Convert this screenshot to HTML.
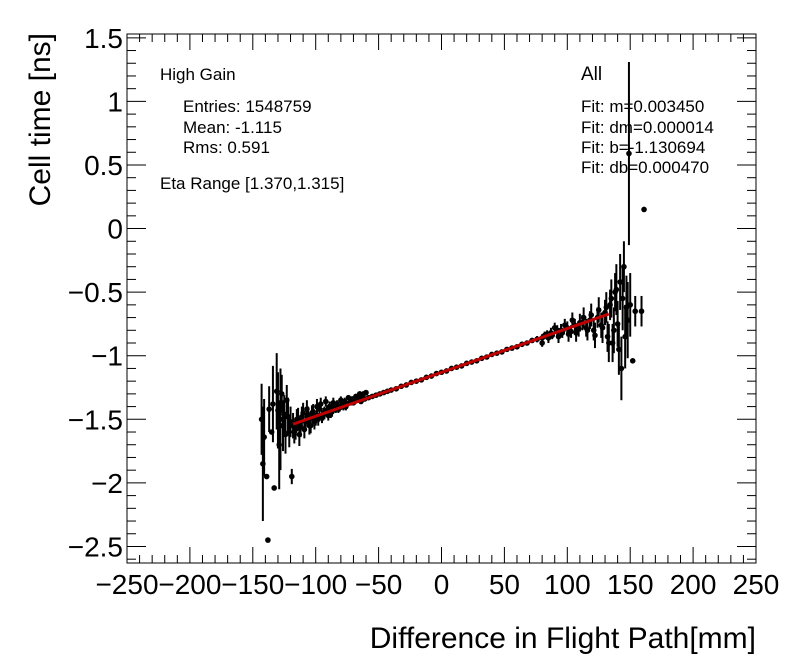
<!DOCTYPE html>
<html><head><meta charset="utf-8"><style>
body{margin:0;background:#fff;}
svg{display:block;font-family:"Liberation Sans",sans-serif;}
</style></head><body>
<svg id="c" width="796" height="672" xmlns="http://www.w3.org/2000/svg">
<rect x="0" y="0" width="796" height="672" fill="#fff"/>
<g id="axes"></g>
<g id="marks"></g>
<text x="160" y="80" font-size="17">High Gain</text>
<text x="183" y="112" font-size="17">Entries: 1548759</text>
<text x="183" y="133" font-size="17">Mean: -1.115</text>
<text x="183" y="153" font-size="17">Rms: 0.591</text>
<text x="160" y="189" font-size="17">Eta Range [1.370,1.315]</text>
<text x="581" y="80" font-size="19">All</text>
<text x="581" y="112" font-size="17">Fit: m=0.003450</text>
<text x="581" y="133" font-size="17">Fit: dm=0.000014</text>
<text x="581" y="153" font-size="17">Fit: b=-1.130694</text>
<text x="581" y="173" font-size="17">Fit: db=0.000470</text>
<text x="756" y="648" font-size="30" text-anchor="end">Difference in Flight Path[mm]</text>
<text transform="translate(50,33) rotate(-90)" font-size="30" text-anchor="end">Cell time [ns]</text>
</svg>
<script>
const xs=[-143,-142,-141,-139,-138,-137,-135,-134,-133,-131,-130,-129,-128,-127,-126,-125,-124,-123,-122,-121,-120,-119,-118,-116,
-114,-112,-110,-108,-106,-104,-102,-100,
-97,-94,-91,-88,-85,-82,-79,-76,-73,-70,-67,-64,-61,-58,-55,-52,-49,-46,-43,-40,
-36,-32,-28,-24,-20,-16,-12,-8,-4,0,4,8,12,16,20,24,28,32,36,40,44,48,52,56,60,64,68,72,76,80,84,88,92,96,100,
103,106,109,112,115,118,121,124,127,130,
132,134,136,138,140,
141,142,143,144,145,146,147,148,149,150,152,154,159,161,
-117,-115,-113,-111,-109,-107,-105,-103,-101,-99,-98,-96,-95,-93,-92,-90,-89,-87,-86,-84,-83,-81,-80,-78,-77,-75,-74,-72,-71,-69,-68,-66,-65,-63,-62,-60,
80,82,85,87,90,93,95,98,101,104,107,110,113,116,119,122,125,128,131,133,135,137,139];
const ys=[-1.50,-1.85,-1.64,-1.95,-2.45,-1.42,-1.60,-1.38,-2.04,-1.28,-1.43,-1.70,-1.50,-1.30,-1.55,-1.46,-1.62,-1.35,-1.48,-1.60,-1.52,-1.95,-1.55,-1.58,
-1.50,-1.56,-1.45,-1.52,-1.47,-1.55,-1.44,-1.50,
-1.42,-1.46,-1.43,-1.45,-1.40,-1.42,-1.39,-1.40,-1.37,-1.37,-1.35,-1.36,-1.34,-1.33,-1.32,-1.31,-1.30,-1.29,-1.28,-1.27,
-1.26,-1.24,-1.23,-1.21,-1.20,-1.19,-1.17,-1.16,-1.14,-1.13,-1.12,-1.10,-1.09,-1.08,-1.06,-1.05,-1.04,-1.02,-1.01,-0.99,-0.98,-0.97,-0.95,-0.94,-0.93,-0.91,-0.90,-0.88,-0.87,-0.86,-0.83,-0.84,-0.80,-0.82,-0.78,
-0.81,-0.76,-0.79,-0.74,-0.78,-0.72,-0.80,-0.70,-0.76,-0.66,
-0.85,-0.60,-0.90,-0.50,-0.75,
-0.95,-0.42,-1.10,-0.55,-0.30,-0.85,-0.62,-0.72,0.59,-0.60,-1.04,-0.65,-0.65,0.15,
-1.60,-1.50,-1.62,-1.48,-1.58,-1.42,-1.55,-1.45,-1.52,-1.40,-1.50,-1.38,-1.48,-1.45,-1.36,-1.47,-1.40,-1.44,-1.37,-1.42,-1.38,-1.41,-1.35,-1.40,-1.36,-1.38,-1.33,-1.37,-1.34,-1.36,-1.32,-1.34,-1.30,-1.33,-1.30,-1.29,
-0.90,-0.84,-0.86,-0.82,-0.78,-0.85,-0.80,-0.76,-0.83,-0.72,-0.82,-0.74,-0.70,-0.80,-0.68,-0.84,-0.64,-0.78,-0.62,-0.90,-0.55,-0.80,-0.48];
const es=[0.28,0.45,0.30,0,0,0.18,0,0.30,0,0.30,0.30,0.35,0.40,0.15,0.20,0.15,0.15,0.12,0.15,0.12,0.12,0.06,0.10,0.08,
0.09,0.08,0.08,0.07,0.07,0.06,0.06,0.05,
0.05,0.05,0.04,0.04,0.03,0.03,0.03,0.03,0.02,0.02,0.02,0.02,0.02,0.015,0.015,0.015,0.012,0.012,0.01,0.01,
0.01,0.01,0.01,0.01,0.01,0.01,0.01,0.01,0.01,0.01,0.01,0.01,0.01,0.01,0.01,0.01,0.01,0.01,0.01,0.01,0.01,0.012,0.012,0.015,0.015,0.02,0.02,0.02,0.025,0.03,0.03,0.03,0.04,0.04,0.05,
0.05,0.05,0.06,0.06,0.07,0.07,0.08,0.08,0.10,0.10,
0.12,0.12,0.15,0.15,0.18,
0.20,0.22,0.25,0.25,0.20,0.25,0.25,0.30,0.72,0.25,0,0.12,0.12,0,
0.09,0.08,0.09,0.08,0.07,0.07,0.07,0.06,0.06,0.06,0.05,0.05,0.05,0.05,0.04,0.04,0.04,0.04,0.04,0.03,0.03,0.03,0.03,0.03,0.03,0.02,0.02,0.02,0.02,0.02,0.02,0.02,0.02,0.02,0.02,0.02,
0.03,0.03,0.04,0.04,0.04,0.05,0.05,0.05,0.06,0.06,0.07,0.07,0.08,0.08,0.09,0.10,0.10,0.12,0.12,0.15,0.15,0.18,0.20];
const fitM=0.003450, fitB=-1.130694, fitRange=[-118,133];
const xTicks=[-250,-200,-150,-100,-50,0,50,100,150,200,250];
const yTicks=[-2.5,-2,-1.5,-1,-0.5,0,0.5,1,1.5];
const L=127,R=756,T=34,B=563,XMIN=-250,XMAX=250,YMIN=-2.63,YMAX=1.53;
const X=v=>L+(v-XMIN)/(XMAX-XMIN)*(R-L);
const Y=v=>B-(v-YMIN)/(YMAX-YMIN)*(B-T);
const NS='http://www.w3.org/2000/svg';
function mk(p,t,a){const e=document.createElementNS(NS,t);for(const k in a)e.setAttribute(k,a[k]);p.appendChild(e);return e;}
const ax=document.getElementById('axes'),mg=document.getElementById('marks');
const fr=mk(ax,'rect',{x:L,y:T,width:R-L,height:B-T,fill:'none',stroke:'#000','stroke-width':1});


for(let v=-250;v<=250;v+=10){const maj=v%50===0;const len=maj?16:8;const x=X(v);
 mk(ax,'line',{x1:x,x2:x,y1:B,y2:B-len,stroke:'#000'});mk(ax,'line',{x1:x,x2:x,y1:T,y2:T+len,stroke:'#000'});}
for(let i=-26;i<=15;i++){const v=i/10;if(v<YMIN||v>YMAX)continue;const maj=i%5===0;const len=maj?19:9;const y=Y(v);
 mk(ax,'line',{x1:L,x2:L+len,y1:y,y2:y,stroke:'#000'});mk(ax,'line',{x1:R,x2:R-len,y1:y,y2:y,stroke:'#000'});}
xTicks.forEach(v=>{const t=mk(ax,'text',{x:X(v),y:594,'font-size':28,'text-anchor':'middle'});t.textContent=(v<0?'\u2212'+(-v):v);
 
 });
yTicks.forEach(v=>{const t=mk(ax,'text',{x:123,y:Y(v)+10,'font-size':28,'text-anchor':'end'});t.textContent=(v<0?'\u2212'+(-v):v);
 
 });
xs.forEach((x,i)=>{const px=X(x);
 if(es[i]>0){const l=mk(mg,'line',{x1:px,x2:px,y1:Y(ys[i]+es[i]),y2:Y(ys[i]-es[i]),stroke:'#000','stroke-width':2});
  
  }
 const c=mk(mg,'circle',{cx:px,cy:Y(ys[i]),r:2.8,fill:'#000'});
 
 });
const fl=mk(mg,'line',{x1:X(fitRange[0]),x2:X(fitRange[1]),y1:Y(fitM*fitRange[0]+fitB),y2:Y(fitM*fitRange[1]+fitB),stroke:'#c00000','stroke-width':3});


</script>
</body></html>
